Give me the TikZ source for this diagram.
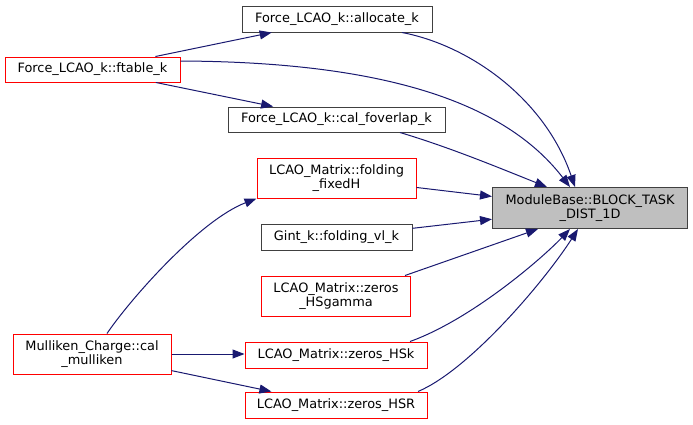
\documentclass[tikz,border=0pt]{standalone}
\usepackage{fontspec}
\setmainfont{DejaVu Sans}
\usetikzlibrary{arrows.meta}
\definecolor{edgeblue}{HTML}{191970}
\definecolor{boxgray}{HTML}{BFBFBF}
\definecolor{darkborder}{HTML}{404040}
\definecolor{boxred}{HTML}{FF0000}
\tikzset{
  fn/.style={draw=darkborder, line width=1pt, inner sep=0pt, align=center,
    font=\fontsize{12.9}{14}\selectfont, text=black},
  fnred/.style={fn, draw=boxred},
  fnmain/.style={fn, fill=boxgray},
  call/.style={draw=edgeblue, line width=1pt, -{Triangle[length=12pt,width=9pt]}}
}
\begin{document}
\begin{tikzpicture}[x=1pt,y=-1pt]
\useasboundingbox (0,0) rectangle (693,424);
\node[fn, minimum width=190pt, minimum height=26pt] (allocate) at (337,19) {Force\_LCAO\_k::allocate\_k};
\node[fnred, minimum width=175pt, minimum height=25pt] (ftable) at (92.5,69.5) {Force\_LCAO\_k::ftable\_k};
\node[fn, minimum width=217pt, minimum height=25pt] (foverlap) at (336.5,119.5) {Force\_LCAO\_k::cal\_foverlap\_k};
\node[fnred, minimum width=159pt, minimum height=40pt] (fixedH) at (336.5,178) {LCAO\_Matrix::folding\\\_fixedH};
\node[fn, minimum width=151pt, minimum height=26pt] (gint) at (336.5,237) {Gint\_k::folding\_vl\_k};
\node[fnred, minimum width=149pt, minimum height=40pt] (hsgamma) at (336,296) {LCAO\_Matrix::zeros\\\_HSgamma};
\node[fnred, minimum width=182pt, minimum height=26pt] (hsk) at (336,355) {LCAO\_Matrix::zeros\_HSk};
\node[fnred, minimum width=182pt, minimum height=26pt] (hsr) at (336,405) {LCAO\_Matrix::zeros\_HSR};
\node[fnred, minimum width=158pt, minimum height=40pt] (mulliken) at (92,354) {Mulliken\_Charge::cal\\\_mulliken};
\node[fnmain, minimum width=195pt, minimum height=41pt] (block) at (590,208) {ModuleBase::BLOCK\_TASK\\\_DIST\_1D};

\draw[call] (ftable) -- (allocate);
\draw[call] (ftable) -- (foverlap);
\draw[call] ([yshift=8.5pt]ftable.east) .. controls +(220,1) and +(-60,-78) .. ([xshift=-20pt]block.north);
\draw[call] ([xshift=65pt]allocate.south) .. controls +(68,13) and +(-30,-88) .. ([xshift=-15pt]block.north);
\draw[call] ([xshift=63.5pt]foverlap.south) .. controls +(50,15) and +(-50,-20) .. ([xshift=-43pt]block.north);
\draw[call] (fixedH) -- (block);
\draw[call] (gint) -- (block);
\draw[call] ([xshift=69pt]hsgamma.north) -- ([xshift=-52pt]block.south);
\draw[call] ([xshift=74pt]hsk.north) .. controls +(60,-21.5) and +(-30,31.5) .. ([xshift=-20pt]block.south);
\draw[call] ([xshift=82pt]hsr.north) .. controls +(52,-22) and +(-33,51.5) .. ([xshift=-12pt]block.south);
\draw[call] ([xshift=15pt]mulliken.north) .. controls +(23,-34) and +(-57,22) .. (fixedH.south west);
\draw[call] (mulliken.east) -- (mulliken.east -| hsk.west);
\draw[call] (mulliken) -- (hsr);
\end{tikzpicture}
\end{document}
